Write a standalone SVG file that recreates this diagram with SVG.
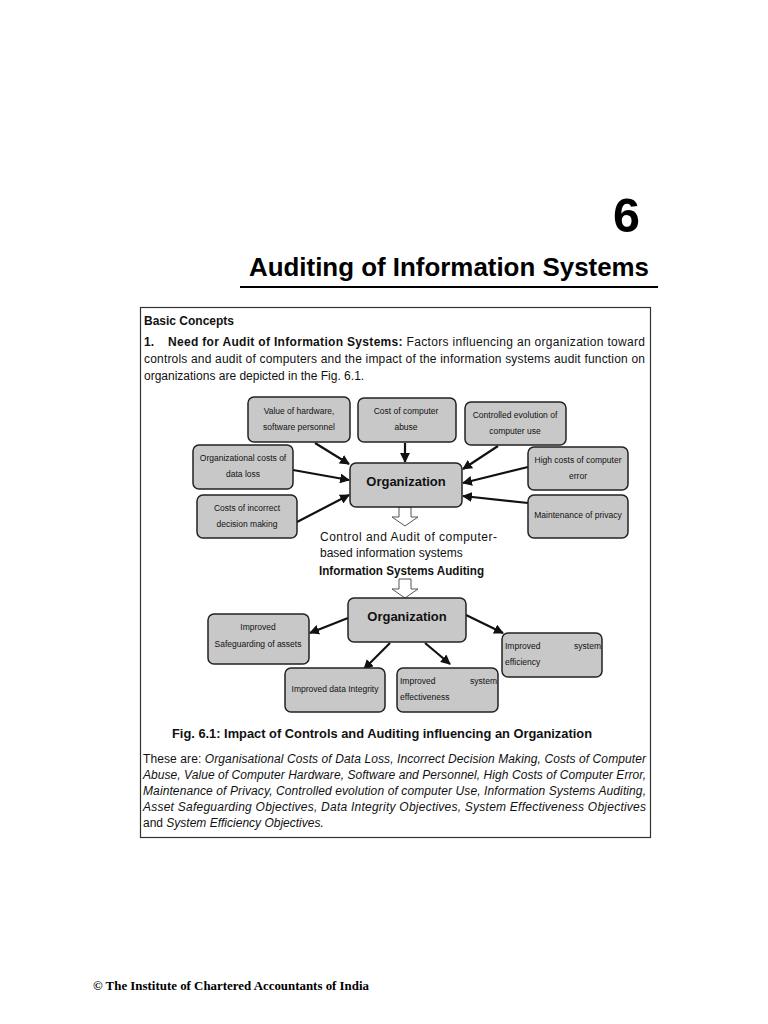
<svg xmlns="http://www.w3.org/2000/svg" width="768" height="1024" viewBox="0 0 768 1024">
<defs>
<style>
.s{font-family:"Liberation Sans",Arial,sans-serif;}
.n{font-family:"Liberation Sans",Arial,sans-serif;font-size:8.5px;fill:#111;}
.nb{fill:#c8c8c8;stroke:#222;stroke-width:1.5;}
.org{font-family:"Liberation Sans",Arial,sans-serif;font-size:13px;font-weight:bold;fill:#111;}
.c{stroke:#111;stroke-width:2.2;fill:none;marker-end:url(#ah);}
.b{font-family:"Liberation Sans",Arial,sans-serif;font-size:12px;fill:#111;}
.hol{fill:#fff;stroke:#555;stroke-width:1;}
</style>
<marker id="ah" viewBox="0 0 10 10" refX="9" refY="5" markerWidth="4.5" markerHeight="4.5" orient="auto" markerUnits="strokeWidth">
<path d="M0,0 L10,5 L0,10 z" fill="#111"/>
</marker>
</defs>
<rect width="768" height="1024" fill="#fff"/>

<text x="640" y="232" text-anchor="end" class="s" font-size="48" font-weight="bold" fill="#000" textLength="27" lengthAdjust="spacingAndGlyphs">6</text>
<text x="649" y="276" text-anchor="end" class="s" font-size="26" font-weight="bold" fill="#000" textLength="400" lengthAdjust="spacingAndGlyphs">Auditing of Information Systems</text>
<line x1="240" y1="287" x2="658" y2="287" stroke="#000" stroke-width="2"/>

<rect x="140.5" y="307.5" width="510" height="530" fill="#fff" stroke="#333" stroke-width="1.2"/>

<text x="144" y="325" class="b" font-weight="bold">Basic Concepts</text>
<text x="144" y="346" class="b" font-weight="bold">1.</text>
<text x="168" y="346" class="b" textLength="477" lengthAdjust="spacing"><tspan font-weight="bold">Need for Audit of Information Systems:</tspan> Factors influencing an organization toward</text>
<text x="144" y="363" class="b" textLength="501" lengthAdjust="spacing">controls and audit of computers and the impact of the information systems audit function on</text>
<text x="144" y="380" class="b">organizations are depicted in the Fig. 6.1.</text>

<g id="connectors">
<line class="c" x1="315" y1="443" x2="349" y2="464"/>
<line class="c" x1="405" y1="443" x2="405" y2="462"/>
<line class="c" x1="498" y1="446" x2="463" y2="469"/>
<line class="c" x1="293" y1="470" x2="349" y2="480"/>
<line class="c" x1="297" y1="522" x2="349" y2="495"/>
<line class="c" x1="528" y1="467" x2="463" y2="483"/>
<line class="c" x1="528" y1="503" x2="463" y2="496"/>
<line class="c" x1="348" y1="618" x2="310" y2="633"/>
<line class="c" x1="390" y1="643" x2="364" y2="669"/>
<line class="c" x1="425" y1="643" x2="450" y2="664"/>
<line class="c" x1="466" y1="615" x2="503" y2="633"/>
<path class="hol" d="M399,507 L411,507 L411,517 L418,517 L405,526 L392,517 L399,517 Z"/>
<path class="hol" d="M399,579 L411,579 L411,589 L418,589 L405,598 L392,589 L399,589 Z"/>
</g>

<g id="value">
<rect class="nb" x="248" y="397" width="102" height="45" rx="6"/>
<text class="n" x="299" y="414" text-anchor="middle">Value of hardware,</text>
<text class="n" x="299" y="430" text-anchor="middle">software personnel</text>
</g>
<g id="abuse">
<rect class="nb" x="358" y="398" width="98" height="44" rx="6"/>
<text class="n" x="406" y="414" text-anchor="middle">Cost of computer</text>
<text class="n" x="406" y="430" text-anchor="middle">abuse</text>
</g>
<g id="evolution">
<rect class="nb" x="465" y="402" width="101" height="43" rx="6"/>
<text class="n" x="515" y="418" text-anchor="middle">Controlled evolution of</text>
<text class="n" x="515" y="434" text-anchor="middle">computer use</text>
</g>
<g id="dataloss">
<rect class="nb" x="193" y="445" width="100" height="44" rx="6"/>
<text class="n" x="243" y="461" text-anchor="middle">Organizational costs of</text>
<text class="n" x="243" y="477" text-anchor="middle">data loss</text>
</g>
<g id="decision">
<rect class="nb" x="197" y="495" width="100" height="43" rx="6"/>
<text class="n" x="247" y="511" text-anchor="middle">Costs of incorrect</text>
<text class="n" x="247" y="527" text-anchor="middle">decision making</text>
</g>
<g id="organization1">
<rect class="nb" x="350" y="463" width="112" height="44" rx="6"/>
<text class="org" x="406" y="486" text-anchor="middle">Organization</text>
</g>
<g id="error">
<rect class="nb" x="528" y="447" width="100" height="43" rx="6"/>
<text class="n" x="578" y="463" text-anchor="middle">High costs of computer</text>
<text class="n" x="578" y="479" text-anchor="middle">error</text>
</g>
<g id="privacy">
<rect class="nb" x="528" y="495" width="100" height="43" rx="6"/>
<text class="n" x="578" y="518" text-anchor="middle">Maintenance of privacy</text>
</g>

<text x="320" y="541" class="b" textLength="177" lengthAdjust="spacing">Control and Audit of computer-</text>
<text x="320" y="557" class="b">based information systems</text>
<text x="319" y="575" class="b" font-weight="bold" textLength="165" lengthAdjust="spacingAndGlyphs">Information Systems Auditing</text>

<g id="organization2">
<rect class="nb" x="348" y="598" width="118" height="44" rx="6"/>
<text class="org" x="407" y="621" text-anchor="middle">Organization</text>
</g>
<g id="safeguarding">
<rect class="nb" x="208" y="614" width="101" height="50" rx="6"/>
<text class="n" x="258" y="630" text-anchor="middle">Improved</text>
<text class="n" x="258" y="647" text-anchor="middle">Safeguarding of assets</text>
</g>
<g id="integrity">
<rect class="nb" x="285" y="668" width="100" height="44" rx="6"/>
<text class="n" x="335" y="692" text-anchor="middle">Improved data Integrity</text>
</g>
<g id="effectiveness">
<rect class="nb" x="397" y="668" width="101" height="44" rx="6"/>
<text class="n" x="400" y="684">Improved</text>
<text class="n" x="497" y="684" text-anchor="end">system</text>
<text class="n" x="400" y="700">effectiveness</text>
</g>
<g id="efficiency">
<rect class="nb" x="502" y="633" width="100" height="44" rx="6"/>
<text class="n" x="505" y="649">Improved</text>
<text class="n" x="601" y="649" text-anchor="end">system</text>
<text class="n" x="505" y="665">efficiency</text>
</g>

<text x="382" y="738" text-anchor="middle" class="b" font-weight="bold" textLength="420" lengthAdjust="spacingAndGlyphs">Fig. 6.1: Impact of Controls and Auditing influencing an Organization</text>

<text x="143" y="763" class="b" textLength="503" lengthAdjust="spacing">These are: <tspan font-style="italic">Organisational Costs of Data Loss, Incorrect Decision Making, Costs of Computer</tspan></text>
<text x="143" y="779" class="b" font-style="italic" textLength="503" lengthAdjust="spacing">Abuse, Value of Computer Hardware, Software and Personnel, High Costs of Computer Error,</text>
<text x="143" y="795" class="b" font-style="italic" textLength="503" lengthAdjust="spacing">Maintenance of Privacy, Controlled evolution of computer Use, Information Systems Auditing,</text>
<text x="143" y="811" class="b" font-style="italic" textLength="503" lengthAdjust="spacing">Asset Safeguarding Objectives, Data Integrity Objectives, System Effectiveness Objectives</text>
<text x="143" y="827" class="b">and <tspan font-style="italic">System Efficiency Objectives.</tspan></text>

<text x="93" y="990" font-family="'Liberation Serif','Times New Roman',serif" font-size="11.5" font-weight="bold" fill="#000" textLength="276" lengthAdjust="spacingAndGlyphs">© The Institute of Chartered Accountants of India</text>
</svg>
